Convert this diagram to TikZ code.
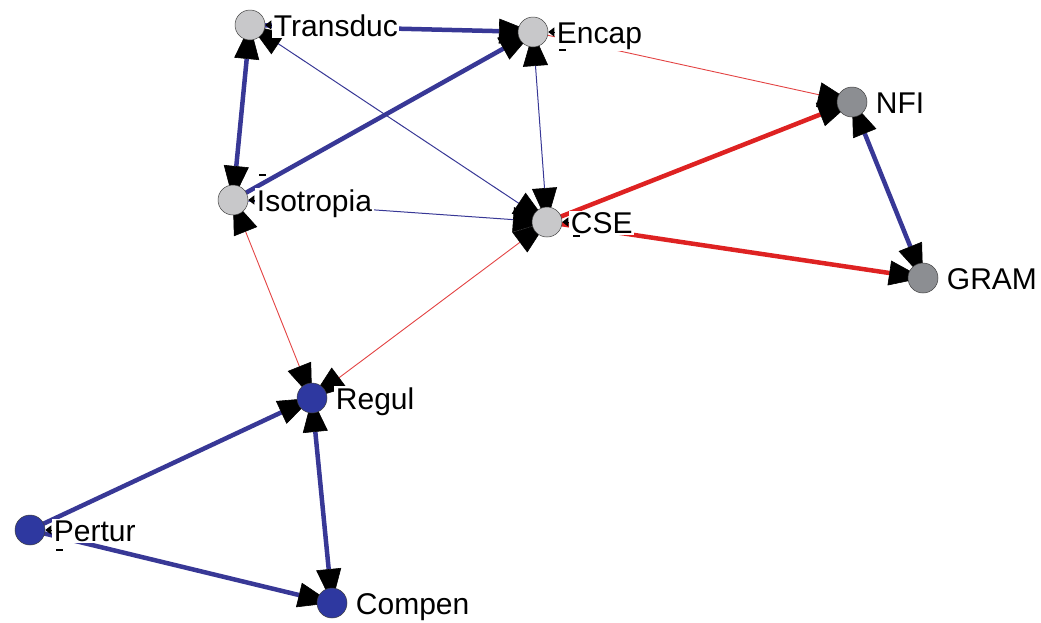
\documentclass[tikz,border=0pt]{standalone}
\usepackage{fontspec}
\setmainfont{Liberation Sans}
\usetikzlibrary{arrows.meta}

\definecolor{tieblue}{RGB}{56,56,150}
\definecolor{tiered}{RGB}{222,34,34}
\definecolor{nodelight}{RGB}{200,200,202}
\definecolor{nodedark}{RGB}{140,142,146}
\definecolor{nodeblue}{RGB}{46,56,160}

\pgfdeclarelayer{edges}
\pgfsetlayers{edges,main}

\begin{document}
\begin{tikzpicture}[x=1pt,y=-1pt,
    >={Triangle[length=34pt,width=25pt,line width=0.6pt,color=black]},
    actor/.style={circle,draw=black!75,line width=0.5pt,minimum size=30pt,inner sep=0pt},
    lbl/.style={anchor=base west,fill=white,inner sep=1.5pt,font=\fontsize{30}{34}\selectfont},
    thickblue/.style={draw=tieblue,line width=4.5pt},
    thinblue/.style={draw=tieblue,line width=1pt},
    thickred/.style={draw=tiered,line width=4.5pt},
    thinred/.style={draw=tiered!85,line width=0.9pt},
    selftip/.style={-{Triangle[length=6pt,width=9pt,color=black]},line width=1pt}]

    \useasboundingbox (0,0) rectangle (1041,622);

    % actors and their names
    \foreach \n/\x/\y/\c/\t in {trans/250/25/nodelight/Transduc, encap/533/32/nodelight/Encap,
        nfi/852/102/nodedark/NFI, iso/233/200/nodelight/Isotropia, cse/547/222/nodelight/CSE,
        gram/923/278/nodedark/GRAM, regul/312/398/nodeblue/Regul, pertur/30/530/nodeblue/Pertur,
        compen/332/603/nodeblue/Compen} {
        \node[actor,fill=\c] (\n) at (\x,\y) {};
        \node[lbl] (\n-lbl) at ([shift={(7,11)}]\n.east) {\t};
    }

    % ties, tips run to the centres and the discs hide them
    \begin{pgfonlayer}{edges}
        \draw[thickblue,->] (trans.center) -- (encap.center);
        \draw[thickblue,<->] (trans.center) -- (iso.center);
        \draw[thickblue,->] (iso.center) -- (encap.center);
        \draw[thinblue,<->] (trans.center) -- (cse.center);
        \draw[thinblue,<->] (encap.center) -- (cse.center);
        \draw[thinblue,->] (iso.center) -- (cse.center);
        \draw[thinred,->] (encap.center) -- (nfi.center);
        \draw[thickred,->] (cse.center) -- (nfi.center);
        \draw[thickred,->] (cse.center) -- (gram.center);
        \draw[thickblue,<->] (nfi.center) -- (gram.center);
        \draw[thinred,<->] (regul.center) -- (iso.center);
        \draw[thinred,<->] (regul.center) -- (cse.center);
        \draw[thickblue,->] (pertur.center) -- (regul.center);
        \draw[thickblue,<->] (regul.center) -- (compen.center);
        \draw[thickblue,->] (pertur.center) -- (compen.center);
    \end{pgfonlayer}

    % reflexive ties
    \foreach \n in {trans,encap,iso,cse,pertur}
        \draw[selftip] ([xshift=6pt]\n.east) -- (\n.east);
    \foreach \n/\dy in {encap/18,cse/14,pertur/20,iso/-25}
        \draw[line width=2pt] ([shift={(26,\dy)}]\n.center) -- ++(7,0);
\end{tikzpicture}
\end{document}
